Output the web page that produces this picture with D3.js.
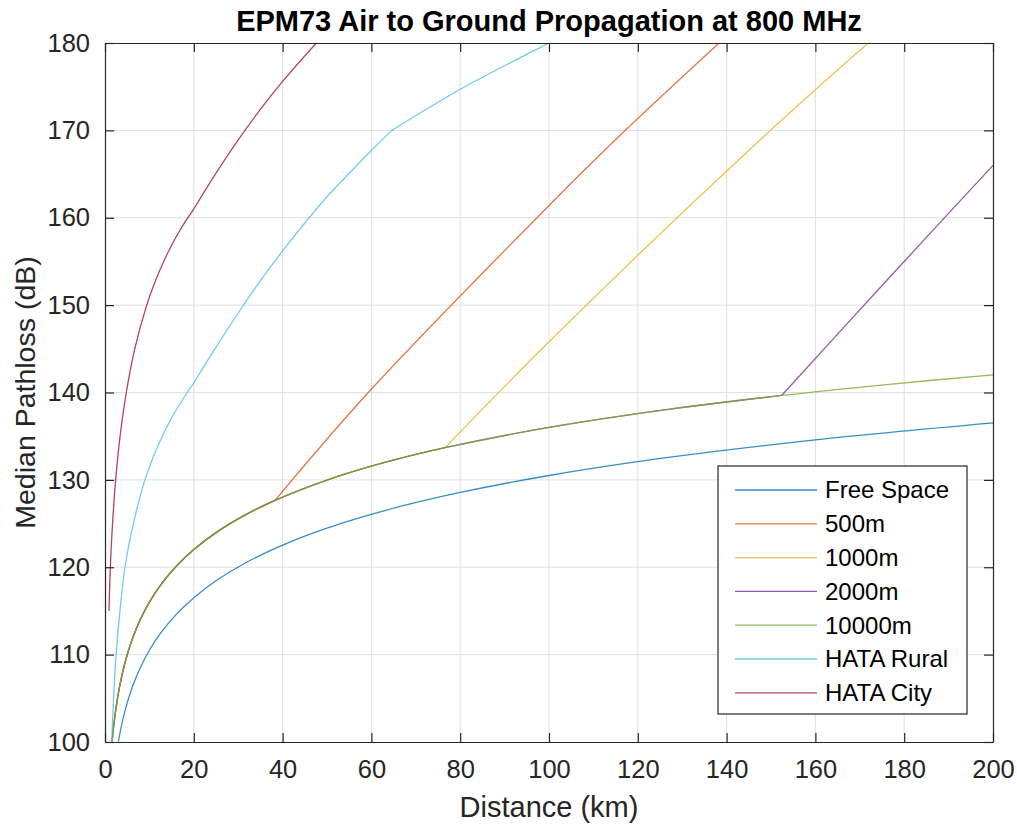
<!DOCTYPE html>
<html>
<head>
<meta charset="utf-8">
<script src="https://cdn.jsdelivr.net/npm/d3@7"></script>
<style>
body { margin: 0; background: #fff; }
svg { font-family: "Liberation Sans", Arial, Helvetica, sans-serif; }
</style>
</head>
<body>
<div id="chart"></div>
<script>
var title = "EPM73 Air to Ground Propagation at 800 MHz";
var xLabel = "Distance (km)";
var yLabel = "Median Pathloss (dB)";
var xTicks = [0, 20, 40, 60, 80, 100, 120, 140, 160, 180, 200];
var yTicks = [100, 110, 120, 130, 140, 150, 160, 170, 180];

var seriesNames = ["Free Space", "500m", "1000m", "2000m", "10000m", "HATA Rural", "HATA City"];
var seriesColors = ["#0072BD", "#D95319", "#EDB120", "#7E2F8E", "#77AC30", "#4DBEEE", "#A2142F"];

// free space
var freeSpaceDist = [3, 4, 5, 6.3, 8, 10, 12.6, 16, 20, 25, 31.6, 40, 50, 63, 80, 100, 126, 160, 200];
var freeSpaceLoss = [100.04, 102.54, 104.48, 106.49, 108.56, 110.50, 112.51, 114.58, 116.52, 118.46, 120.49, 122.54, 124.48, 126.49, 128.56, 130.50, 132.51, 134.58, 136.52];

// 10000m, the other altitudes follow it until they break away
var alt10000Dist = [1.6, 2, 2.5, 3.2, 4, 5, 6.3, 8, 10, 12.6, 16, 20, 25, 31.6, 38.3, 50, 63, 76.6, 100, 126, 152.4, 176, 200];
var alt10000Loss = [100.08, 102.02, 103.96, 106.10, 108.04, 109.98, 111.99, 114.06, 116.00, 118.01, 120.08, 122.02, 123.96, 125.99, 127.66, 129.98, 131.99, 133.68, 136.00, 138.01, 139.66, 140.91, 142.02];

var alt500Dist = [38.3, 59.3, 100, 114.9, 138.3];
var alt500Loss = [127.66, 140.0, 161.4, 168.9, 180.0];
var alt1000Dist = [76.6, 100, 147.5, 171.9];
var alt1000Loss = [133.68, 145.8, 168.9, 180.0];
var alt2000Dist = [152.4, 176.2, 200];
var alt2000Loss = [139.66, 152.9, 166.0];

var hataRuralDist = [1.5, 2, 2.5, 3.5, 4.5, 6, 9, 12, 15, 18.5, 20, 25, 30, 35, 40, 45, 50, 55, 60, 64.6, 80, 90, 100];
var hataRuralLoss = [100.0, 105.6, 110.0, 115.7, 120.0, 124.1, 130.0, 134.0, 137.1, 140.0, 141.1, 145.2, 149.1, 152.8, 156.2, 159.4, 162.4, 165.1, 167.7, 170.0, 174.7, 177.4, 180.0];
var hataRuralKnees = [20, 64.6];

var hataCityDist = [0.9, 1.2, 1.7, 2.4, 3.4, 4.8, 6.7, 9.4, 11, 13.5, 16, 18, 20, 25, 30, 35, 40, 47.6];
var hataCityLoss = [115.0, 120.0, 125.0, 130.0, 135.0, 140.0, 145.0, 150.0, 152.3, 155.3, 157.8, 159.5, 161.0, 165.1, 168.9, 172.4, 175.6, 180.0];
var hataCityKnees = [20];

var width = 1017, height = 828;
var margin = {left: 105, top: 43, right: 24, bottom: 86};
var plotW = width - margin.left - margin.right;
var plotH = height - margin.top - margin.bottom;
var axisColor = "#262626";

function zip(xs, ys) {
    return xs.map(function(d, i) { return [d, ys[i]]; });
}

// altitude series = 10000m curve up to the break, then its own points
function altitudePieces(dist, loss) {
    var brk = dist[0];
    var shared = zip(alt10000Dist, alt10000Loss).filter(function(p) { return p[0] < brk; });
    shared.push([dist[0], loss[0]]);
    return [shared, zip(dist, loss)];
}

function splitAt(points, knees) {
    var pieces = [], cur = [];
    points.forEach(function(p) {
        cur.push(p);
        if (knees.indexOf(p[0]) >= 0) {
            pieces.push(cur);
            cur = [p];
        }
    });
    if (cur.length > 1) pieces.push(cur);
    return pieces;
}

var series = [
    [zip(freeSpaceDist, freeSpaceLoss)],
    altitudePieces(alt500Dist, alt500Loss),
    altitudePieces(alt1000Dist, alt1000Loss),
    altitudePieces(alt2000Dist, alt2000Loss),
    [zip(alt10000Dist, alt10000Loss)],
    splitAt(zip(hataRuralDist, hataRuralLoss), hataRuralKnees),
    splitAt(zip(hataCityDist, hataCityLoss), hataCityKnees)
];

var svg = d3.select("#chart")
    .append("svg")
        .attr("width", width)
        .attr("height", height)
        .attr("xmlns", "http://www.w3.org/2000/svg")

var x = d3.scaleLinear().domain([0, 200]).range([0, plotW]);
var y = d3.scaleLinear().domain([100, 180]).range([plotH, 0]);

var g = svg.append("g")
    .attr("transform", "translate(" + margin.left + "," + margin.top + ")")

g.append("defs")
    .append("clipPath")
        .attr("id", "plot-clip")
    .append("rect")
        .attr("width", plotW)
        .attr("height", plotH)

// grid
var grid = g.append("g").classed("grid", true)
grid.selectAll(".vgrid")
    .data(xTicks.slice(1, -1))
    .enter().append("line")
        .attr("x1", function(d) { return x(d); })
        .attr("x2", function(d) { return x(d); })
        .attr("y1", 0)
        .attr("y2", plotH)
grid.selectAll(".hgrid")
    .data(yTicks.slice(1, -1))
    .enter().append("line")
        .attr("x1", 0)
        .attr("x2", plotW)
        .attr("y1", function(d) { return y(d); })
        .attr("y2", function(d) { return y(d); })
grid.selectAll("line")
    .attr("stroke", "#dfdfdf")
    .attr("stroke-width", 1)

// lines
var line = d3.line()
    .x(function(d) { return x(d[0]); })
    .y(function(d) { return y(d[1]); })
    .curve(d3.curveCatmullRom.alpha(0.5))

var lines = g.append("g").attr("clip-path", "url(#plot-clip)")
series.forEach(function(pieces, i) {
    pieces.forEach(function(pts) {
        lines.append("path")
            .attr("d", line(pts))
            .attr("fill", "none")
            .attr("stroke", seriesColors[i])
            .attr("stroke-opacity", 0.8)
            .attr("stroke-width", 1.3)
            .attr("stroke-linejoin", "round")
    })
})

// axes, MATLAB style with inward ticks on all four sides
var xAxis = g.append("g")
    .attr("transform", "translate(0," + plotH + ")")
    .call(d3.axisBottom(x).tickValues(xTicks).tickSizeInner(-9).tickSizeOuter(0).tickPadding(18))
var yAxis = g.append("g")
    .call(d3.axisLeft(y).tickValues(yTicks).tickSizeInner(-9).tickSizeOuter(0).tickPadding(15))
var topAxis = g.append("g")
    .call(d3.axisTop(x).tickValues(xTicks).tickSizeInner(-9).tickSizeOuter(0).tickFormat(""))
var rightAxis = g.append("g")
    .attr("transform", "translate(" + plotW + ",0)")
    .call(d3.axisRight(y).tickValues(yTicks).tickSizeInner(-9).tickSizeOuter(0).tickFormat(""))

g.selectAll(".domain, .tick line")
    .attr("stroke", axisColor)
    .attr("stroke-width", 1.2)
g.selectAll(".tick text")
    .attr("fill", axisColor)
    .style("font-size", "25.5px")
svg.selectAll("g[font-family]").attr("font-family", null)

// titles
svg.append("text")
    .attr("x", margin.left + plotW / 2)
    .attr("y", 31)
    .attr("text-anchor", "middle")
    .style("font-size", "29px")
    .style("font-weight", "bold")
    .attr("fill", "#000")
    .text(title)

svg.append("text")
    .attr("x", margin.left + plotW / 2)
    .attr("y", 817)
    .attr("text-anchor", "middle")
    .style("font-size", "29px")
    .attr("fill", axisColor)
    .text(xLabel)

svg.append("text")
    .attr("transform", "translate(35," + (margin.top + plotH / 2) + ") rotate(-90)")
    .attr("text-anchor", "middle")
    .style("font-size", "28.5px")
    .attr("fill", axisColor)
    .text(yLabel)

// legend
var legend = svg.append("g")
    .attr("transform", "translate(718,466)")
legend.append("rect")
    .attr("width", 249)
    .attr("height", 248)
    .attr("fill", "#fff")
    .attr("stroke", axisColor)
    .attr("stroke-width", 1.2)

var rowH = 33.8;
var entries = legend.selectAll(".entry")
    .data(seriesNames)
    .enter().append("g")
        .classed("entry", true)
        .attr("transform", function(d, i) { return "translate(0," + (24 + i * rowH) + ")"; })
entries.append("line")
    .attr("x1", 17)
    .attr("x2", 99)
    .attr("stroke", function(d, i) { return seriesColors[i]; })
    .attr("stroke-opacity", 0.8)
    .attr("stroke-width", 1.3)
entries.append("text")
    .attr("x", 107)
    .attr("dy", "0.35em")
    .style("font-size", "24px")
    .attr("fill", "#000")
    .text(function(d) { return d; })
</script>
</body>
</html>
